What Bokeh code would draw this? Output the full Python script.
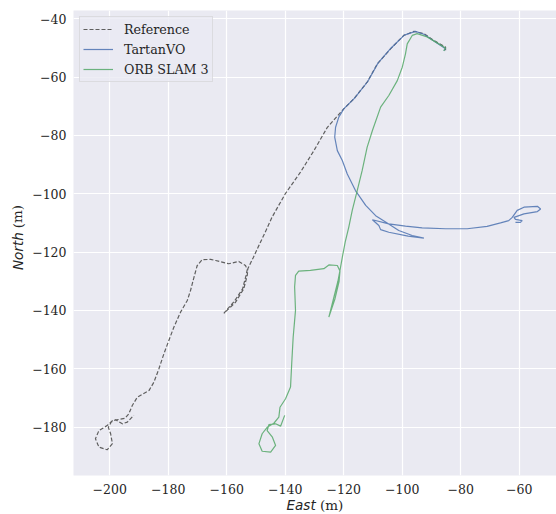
from bokeh.plotting import figure
from bokeh.layouts import row, column
from bokeh.models import Range1d, FixedTicker, Label, Legend, LegendItem
from bokeh.embed import file_html
from bokeh.resources import INLINE

# ---------------- data ----------------
ref_x = [-85.2, -85.2, -89.2, -92.6, -96.0, -99.5, -104.0, -108.5, -112.0, -116.5,
         -120.0, -125.6, -130.2, -134.8, -140.0, -144.5, -147.0, -149.0, -151.0, -152.8,
         -153.0, -154.2, -157.0, -161.0, -157.5, -154.6, -153.4, -153.0, -153.6, -155.9,
         -159.3, -163.8, -165.5, -168.4, -170.1, -171.2, -172.4, -173.5, -175.8, -178.1,
         -179.8, -181.5, -183.2, -184.9, -186.6, -190.6, -192.3, -193.5, -194.8, -196.9,
         -199.1, -200.9, -203.7, -204.9, -203.7, -200.9, -199.1, -199.7, -200.5, -199.5,
         -198.0, -195.7, -194.0, -191.8]
ref_y = [-50.8, -49.7, -47.4, -45.1, -44.3, -45.7, -50.3, -55.4, -61.7, -67.4,
         -70.9, -77.2, -85.2, -92.6, -100.0, -108.0, -113.5, -117.7, -122.0, -125.7,
         -128.0, -132.6, -137.2, -141.0, -137.0, -132.6, -128.0, -126.0, -124.6, -123.2,
         -124.0, -122.9, -122.5, -122.6, -124.6, -128.6, -133.2, -136.6, -140.6, -145.8,
         -150.3, -154.9, -160.0, -164.6, -167.5, -169.8, -172.6, -175.5, -177.0, -177.4,
         -177.8, -179.5, -181.2, -184.0, -186.9, -187.8, -185.7, -182.3, -180.1, -178.3,
         -177.5, -178.9, -178.3, -176.0]

tartan_x = [-85.8, -85.2, -89.2, -92.6, -95.5, -99.3, -103.8, -108.3, -111.8, -116.3,
            -120.0, -121.7, -122.8, -123.1, -122.2, -120.5, -118.8, -116.0, -112.5, -109.1,
            -105.7, -101.2, -96.6, -92.6, -98.0, -104.6, -107.4, -108.0, -110.2, -104.6,
            -98.9, -93.2, -85.2, -77.8, -71.0, -66.4, -63.6, -62.4, -60.7, -58.4,
            -53.8, -52.7, -53.8, -58.4, -61.8, -61.3, -59.0, -59.6, -61.3]
tartan_y = [-50.9, -50.3, -47.6, -45.3, -44.3, -45.6, -50.0, -55.2, -61.5, -67.2,
            -70.9, -73.7, -77.2, -80.6, -85.2, -88.6, -93.2, -98.9, -104.0, -107.5,
            -109.7, -112.6, -114.3, -115.2, -114.5, -113.2, -112.3, -110.9, -108.9, -110.3,
            -111.1, -111.7, -112.0, -112.0, -111.2, -110.0, -109.2, -108.1, -105.7, -104.6,
            -104.3, -105.2, -106.1, -106.9, -108.1, -108.8, -109.2, -109.8, -109.8]

orb_x = [-85.8, -85.2, -88.5, -91.5, -94.9, -96.6, -98.3, -98.9, -100.0, -101.7,
         -104.6, -107.4, -110.2, -112.0, -113.7, -115.4, -117.1, -118.3, -119.5, -120.5,
         -121.1, -122.0, -123.5, -125.1, -123.0, -121.6, -121.3, -122.2, -125.1, -126.8,
         -131.4, -135.4, -136.5, -136.8, -136.5, -137.3, -137.8, -138.2, -139.9, -141.8,
         -142.2, -143.9, -146.2, -147.9, -149.0, -147.9, -145.0, -143.3, -144.4, -146.2,
         -145.6, -143.3, -141.6, -140.2]
orb_y = [-51.0, -50.0, -48.0, -46.2, -45.1, -45.7, -48.6, -52.0, -56.6, -61.2,
         -66.3, -70.3, -78.3, -84.0, -92.0, -98.9, -105.7, -111.5, -116.5, -121.8,
         -125.2, -130.0, -136.0, -142.3, -136.0, -130.0, -126.5, -124.6, -124.4, -125.7,
         -126.3, -126.5, -128.0, -132.0, -140.0, -149.2, -158.3, -166.3, -170.3, -173.2,
         -176.6, -178.7, -180.1, -182.3, -185.7, -188.3, -188.6, -186.3, -183.5, -181.2,
         -179.2, -178.9, -179.7, -176.0]

series_names = ["Reference", "TartanVO", "ORB SLAM 3"]

x_ticks = [-200, -180, -160, -140, -120, -100, -80, -60]
x_tick_labels = ["\u2212200", "\u2212180", "\u2212160", "\u2212140", "\u2212120",
                 "\u2212100", "\u221280", "\u221260"]
y_ticks = [-180, -160, -140, -120, -100, -80, -60, -40]
y_tick_labels = ["\u2212180", "\u2212160", "\u2212140", "\u2212120", "\u2212100",
                 "\u221280", "\u221260", "\u221240"]

# ---------------- layout geometry (pixels) ----------------
W, H = 556, 514
WL = 26            # strip holding the y-axis title
HP = 498           # height of main plot
HX = H - HP        # strip holding the x-axis title
BL, BR, BT, BB = 73 - WL, 0, 10, 23
X0, X1 = -212.4, -47.27
Y0, Y1 = -196.62, -37.15
TXT = "#262626"
FS = "13.5px"

p = figure(width=W - WL, height=HP, output_backend="svg", toolbar_location=None,
           x_range=Range1d(X0, X1), y_range=Range1d(Y0, Y1),
           min_border_left=BL, min_border_right=BR, min_border_top=BT, min_border_bottom=BB)

p.background_fill_color = "#EAEAF2"
p.border_fill_color = "white"
p.outline_line_color = None

for ax, ticks, labels in ((p.xaxis[0], x_ticks, x_tick_labels), (p.yaxis[0], y_ticks, y_tick_labels)):
    ax.ticker = FixedTicker(ticks=ticks)
    ax.major_label_overrides = {t: l for t, l in zip(ticks, labels)}
    ax.axis_line_color = None
    ax.major_tick_line_color = None
    ax.minor_tick_line_color = None
    ax.major_tick_out = 0
    ax.major_tick_in = 0
    ax.minor_tick_out = 0
    ax.minor_tick_in = 0
    ax.major_label_text_font = "DejaVu Serif"
    ax.major_label_text_font_size = "12.5px"
    ax.major_label_text_color = TXT
p.xaxis.major_label_standoff = 8
p.yaxis.major_label_standoff = 7

p.xgrid.ticker = FixedTicker(ticks=x_ticks)
p.ygrid.ticker = FixedTicker(ticks=y_ticks)
for g in (p.xgrid[0], p.ygrid[0]):
    g.grid_line_color = "white"
    g.grid_line_width = 1.2

r1 = p.line(ref_x, ref_y, line_color="#5f5f5f", line_dash="4 2", line_width=1.2)
r2 = p.line(tartan_x, tartan_y, line_color="#4C72B0", line_alpha=0.85, line_width=1.2)
r3 = p.line(orb_x, orb_y, line_color="#55A868", line_alpha=0.85, line_width=1.2)

legend = Legend(items=[LegendItem(label=series_names[0], renderers=[r1]),
                       LegendItem(label=series_names[1], renderers=[r2]),
                       LegendItem(label=series_names[2], renderers=[r3])],
                location="top_left")
legend.margin = 6
legend.padding = 3
legend.spacing = 2
legend.label_height = 18
legend.glyph_height = 18
legend.glyph_width = 30
legend.label_standoff = 11
legend.label_text_font = "DejaVu Serif"
legend.label_text_font_size = "12.7px"
legend.label_text_color = TXT
legend.background_fill_color = "#EAEAF2"
legend.background_fill_alpha = 0.8
legend.border_line_color = "#cccccc"
legend.border_line_width = 1
p.add_layout(legend)


def strip(w, h):
    f = figure(width=w, height=h, output_backend="svg", toolbar_location=None,
               x_range=Range1d(0, w), y_range=Range1d(0, h),
               x_axis_location=None, y_axis_location=None,
               min_border=0, min_border_left=0, min_border_right=0,
               min_border_top=0, min_border_bottom=0)
    f.grid.visible = False
    f.outline_line_color = None
    f.background_fill_color = "white"
    f.border_fill_color = "white"
    return f


# x-axis title strip: "East" (sans italic) + " (m)" (serif)
xs = strip(W, HX)
xc = BL + WL + (W - WL - BL - BR) / 2
xs.add_layout(Label(x=xc + 0.7, y=HX - 6.5, text="East", text_align="right",
                    text_baseline="middle", text_font="DejaVu Sans", text_font_style="italic",
                    text_font_size=FS, text_color=TXT))
xs.add_layout(Label(x=xc + 5.0, y=HX - 6.5, text="(m)", text_align="left",
                    text_baseline="middle", text_font="DejaVu Serif",
                    text_font_size=FS, text_color=TXT))

# y-axis title strip
ys = strip(WL, HP)
yc = HP - (BT + (HP - BT - BB) / 2)
ys.add_layout(Label(x=17, y=yc + 5.0, text="North", text_align="right", angle=1.5708,
                    text_baseline="middle", text_font="DejaVu Sans", text_font_style="italic",
                    text_font_size=FS, text_color=TXT))
ys.add_layout(Label(x=17, y=yc + 9.3, text="(m)", text_align="left", angle=1.5708,
                    text_baseline="middle", text_font="DejaVu Serif",
                    text_font_size=FS, text_color=TXT))

layout = column(row(ys, p, spacing=0), xs, spacing=0)

open("out.html", "w").write(file_html(layout, INLINE))
